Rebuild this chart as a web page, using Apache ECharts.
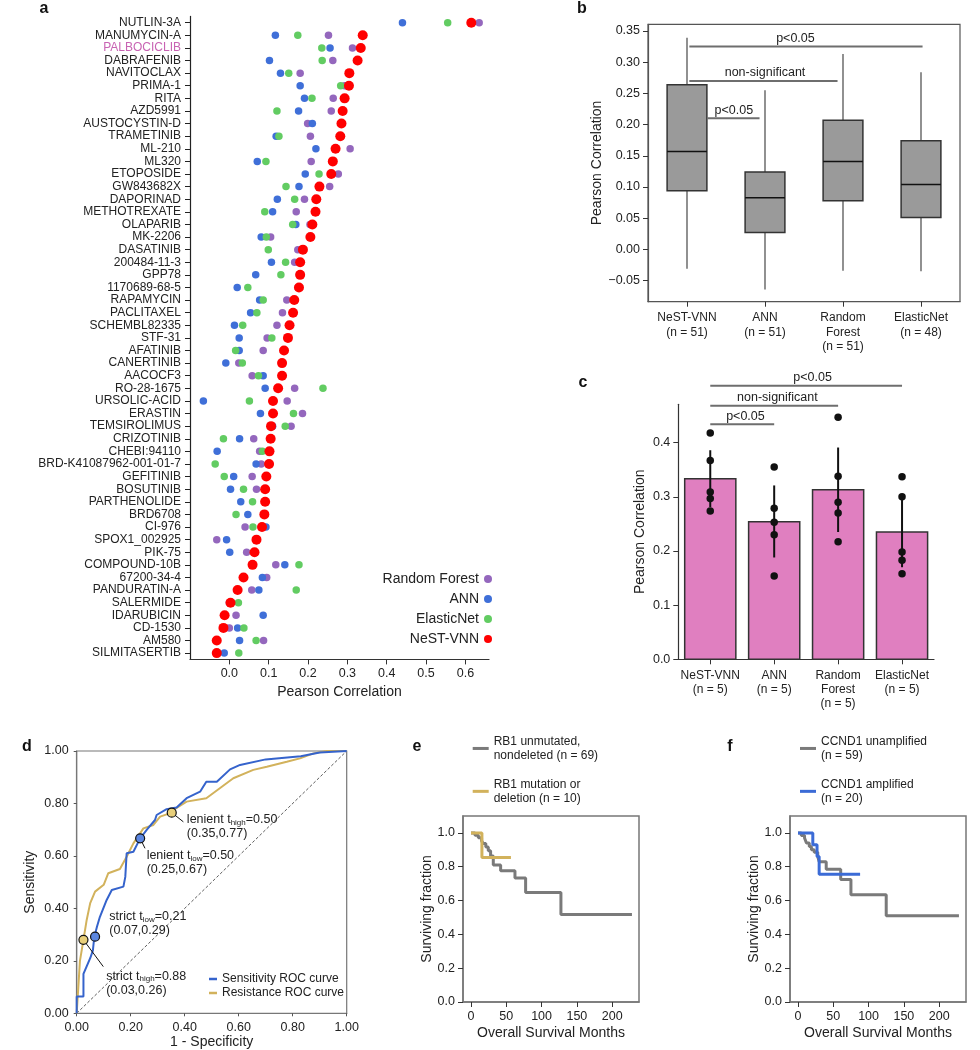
<!DOCTYPE html>
<html><head><meta charset="utf-8">
<script src="https://cdn.jsdelivr.net/npm/echarts@6/dist/echarts.min.js"></script>
<style>html,body{margin:0;padding:0;background:#fff}#c{width:980px;height:1050px}</style>
</head><body><div id="c"></div>
<script>
// ---------------- Panel a : per-drug Pearson correlation ----------------
const drugs = ['NUTLIN-3A','MANUMYCIN-A','PALBOCICLIB','DABRAFENIB','NAVITOCLAX','PRIMA-1','RITA','AZD5991','AUSTOCYSTIN-D','TRAMETINIB','ML-210','ML320','ETOPOSIDE','GW843682X','DAPORINAD','METHOTREXATE','OLAPARIB','MK-2206','DASATINIB','200484-11-3','GPP78','1170689-68-5','RAPAMYCIN','PACLITAXEL','SCHEMBL82335','STF-31','AFATINIB','CANERTINIB','AACOCF3','RO-28-1675','URSOLIC-ACID','ERASTIN','TEMSIROLIMUS','CRIZOTINIB','CHEBI:94110','BRD-K41087962-001-01-7','GEFITINIB','BOSUTINIB','PARTHENOLIDE','BRD6708','CI-976','SPOX1_002925','PIK-75','COMPOUND-10B','67200-34-4','PANDURATIN-A','SALERMIDE','IDARUBICIN','CD-1530','AM580','SILMITASERTIB'];
const nestVals = [0.615,0.339,0.334,0.326,0.305,0.304,0.293,0.288,0.285,0.282,0.270,0.263,0.259,0.229,0.221,0.219,0.211,0.206,0.187,0.180,0.180,0.177,0.165,0.162,0.153,0.149,0.139,0.134,0.134,0.124,0.111,0.111,0.106,0.105,0.102,0.101,0.094,0.091,0.091,0.089,0.083,0.069,0.064,0.059,0.036,0.021,0.003,-0.012,-0.015,-0.032,-0.032];
const annVals = [0.440,0.117,0.256,0.102,0.130,0.180,0.191,0.176,0.211,0.119,0.220,0.071,0.193,0.177,0.122,0.110,0.169,0.081,0.184,0.107,0.067,0.020,0.077,0.054,0.013,0.025,0.025,-0.009,0.086,0.091,-0.066,0.079,0.110,0.026,-0.031,0.068,0.011,0.003,0.029,0.047,0.093,-0.007,0.001,0.141,0.084,0.075,0.004,0.086,0.021,0.026,-0.013];
const enVals = [0.555,0.174,0.235,0.236,0.151,0.283,0.210,0.121,null,0.126,null,0.093,0.228,0.144,0.166,0.090,0.161,0.094,0.099,0.143,0.131,0.047,0.086,0.070,0.034,0.108,0.016,0.033,0.074,0.238,0.051,0.163,0.142,-0.015,0.084,-0.036,-0.013,0.036,0.059,0.017,0.060,0.068,0.063,0.177,null,0.170,0.023,-0.011,0.037,0.068,0.024];
const rfVals = [0.635,0.252,0.313,0.263,0.180,0.293,0.264,0.259,0.199,0.206,0.307,0.208,0.277,0.255,0.191,0.170,0.205,0.105,0.174,0.166,0.178,0.175,0.146,0.135,0.121,0.096,0.086,0.024,0.058,0.166,0.147,0.186,0.157,0.062,0.077,0.081,0.058,0.069,0.090,0.088,0.040,-0.032,0.044,0.118,0.095,0.057,0.000,0.017,0.000,0.087,-0.031];
const highlightDrug = 'PALBOCICLIB';
const ticksA = [0, 0.1, 0.2, 0.3, 0.4, 0.5, 0.6];

// ---------------- Panel b : box plots ----------------
const modelLabelsB = ['NeST-VNN\n(n = 51)', 'ANN\n(n = 51)', 'Random\nForest\n(n = 51)', 'ElasticNet\n(n = 48)'];
const boxLow  = [-0.031, -0.064, -0.034, -0.035];
const boxQ1   = [0.094, 0.027, 0.078, 0.051];
const boxMed  = [0.157, 0.083, 0.141, 0.104];
const boxQ3   = [0.264, 0.124, 0.207, 0.174];
const boxHigh = [0.339, 0.255, 0.313, 0.284];
const ticksB = [-0.05, 0, 0.05, 0.1, 0.15, 0.2, 0.25, 0.3, 0.35];
// [from, to, y, text x]
const bracketsB = [[0.03, 3.02, 0.325, 1.39], [0.03, 1.93, 0.270, 1.0], [0.26, 0.93, 0.210, 0.6]];
const bracketTextB = ['p<0.05', 'non-significant', 'p<0.05'];

// ---------------- Panel c : bars ----------------
const modelLabelsC = ['NeST-VNN\n(n = 5)', 'ANN\n(n = 5)', 'Random\nForest\n(n = 5)', 'ElasticNet\n(n = 5)'];
const cMeans = [0.3335, 0.254, 0.313, 0.235];
const cErrLow = [0.281, 0.188, 0.235, 0.170];
const cErrHigh = [0.386, 0.321, 0.391, 0.300];
const cPoints = [[0.418, 0.367, 0.309, 0.297, 0.274], [0.355, 0.279, 0.253, 0.230, 0.154], [0.447, 0.338, 0.290, 0.270, 0.217], [0.337, 0.300, 0.198, 0.183, 0.158]];
const ticksC = [0, 0.1, 0.2, 0.3, 0.4];
const bracketsC = [[0, 3, 0.505, 1.6], [0, 2, 0.468, 1.05], [0, 1, 0.434, 0.55]];
const bracketTextC = ['p<0.05', 'non-significant', 'p<0.05'];

// ---------------- Panel d : ROC ----------------
const rocSens = [[0,0],[0,0.064],[0.025,0.064],[0.025,0.15],[0.05,0.21],[0.06,0.24],[0.065,0.29],[0.075,0.33],[0.086,0.368],[0.111,0.432],[0.13,0.47],[0.173,0.483],[0.18,0.52],[0.185,0.61],[0.21,0.616],[0.235,0.667],[0.26,0.70],[0.29,0.737],[0.296,0.756],[0.333,0.778],[0.37,0.785],[0.407,0.82],[0.457,0.845],[0.48,0.883],[0.519,0.883],[0.568,0.93],[0.605,0.947],[0.70,0.968],[0.83,0.98],[0.90,0.994],[1,1]];
const rocRes = [[0,0],[0.006,0.10],[0.012,0.20],[0.025,0.28],[0.037,0.356],[0.05,0.42],[0.068,0.464],[0.10,0.49],[0.117,0.534],[0.16,0.55],[0.185,0.597],[0.21,0.648],[0.247,0.705],[0.284,0.718],[0.309,0.75],[0.352,0.765],[0.358,0.775],[0.407,0.807],[0.48,0.82],[0.53,0.858],[0.58,0.896],[0.654,0.928],[0.704,0.94],[0.778,0.959],[0.827,0.972],[0.877,0.991],[0.926,1.0],[1,1]];
const diagLine = [[0,0],[1,1]];
const ptsSens = [[0.235, 0.667], [0.068, 0.292]];
const ptsRes = [[0.352, 0.765], [0.025, 0.28]];
const ticksD = [0, 0.2, 0.4, 0.6, 0.8, 1.0];
const leadersD = [[0.352, 0.765, 0.395, 0.730], [0.235, 0.667, 0.253, 0.629], [0.025, 0.28, 0.0985, 0.178]];
const annotPosD = [[0.408, 0.737], [0.259, 0.600], [0.121, 0.368], [0.109, 0.142]];
const annotTextD = [
  '{a|lenient t}{s|high}{a|=0.50}\n{a|(0.35,0.77)}',
  '{a|lenient t}{s|low}{a|=0.50}\n{a|(0.25,0.67)}',
  '{a|strict t}{s|low}{a|=0.21}\n{a|(0.07,0.29)}',
  '{a|strict t}{s|high}{a|=0.88}\n{a|(0.03,0.26)}'
];

// ---------------- Panels e, f : Kaplan-Meier ----------------
const kmRbWt = [[0,1],[5.7,0.986],[10.4,0.972],[15,0.953],[17.5,0.937],[21,0.917],[24.5,0.894],[27.8,0.864],[31.6,0.81],[42,0.776],[62.3,0.733],[77.4,0.648],[127.4,0.517],[228,0.517]];
const kmRbMut = [[0,1],[15.5,0.855],[56.6,0.855]];
const kmCcndUn = [[0,1],[4.7,0.985],[9.3,0.97],[12,0.94],[16,0.92],[19,0.90],[23,0.885],[28,0.86],[30,0.83],[40,0.785],[60.5,0.725],[75,0.635],[125,0.51],[228,0.51]];
const kmCcndAmp = [[0,1],[21,0.93],[27,0.86],[30,0.756],[88,0.756]];
const ticksKmX = [0, 50, 100, 150, 200];
const ticksKmY = [0, 0.2, 0.4, 0.6, 0.8, 1.0];
const nameRbWt = 'RB1 unmutated,\nnondeleted (n = 69)';
const nameRbMut = 'RB1 mutation or\ndeletion (n = 10)';
const nameCcUn = 'CCND1 unamplified\n(n = 59)';
const nameCcAmp = 'CCND1 amplified\n(n = 20)';

// ======================================================================
const FONT = '"Liberation Sans", Arial, Helvetica, sans-serif';
const TXT = '#222';
const C_RED = '#ff0000', C_BLUE = '#3f6fd8', C_GREEN = '#62cc62', C_PURPLE = '#9467bd';
const C_PINK = '#e07fc0', C_TAN = '#d2b25c', C_ROCBLUE = '#3563cc', C_KMGRAY = '#7a7a7a', C_KMBLUE = '#3b6bd6';

const chart = echarts.init(document.getElementById('c'), null, {renderer: 'canvas'});

function lbl(size, extra) { return Object.assign({color: TXT, fontSize: size, fontFamily: FONT}, extra || {}); }
function axisLineStyle(color, w) { return {show: true, onZero: false, lineStyle: {color: color, width: w}}; }

const grids = [
  {left: 190, top: 16.4, width: 299, height: 643},        // a
  {left: 648, top: 24.3, width: 312, height: 277.4, show: true, borderColor: '#555', borderWidth: 1.2}, // b
  {left: 678.3, top: 404.3, width: 255.7, height: 255},   // c
  {left: 76.7, top: 751, width: 270, height: 262.3, show: true, borderColor: '#777', borderWidth: 1.2}, // d
  {left: 463, top: 816, width: 176, height: 186, show: true, borderColor: '#777', borderWidth: 1.5},  // e
  {left: 790, top: 816, width: 176, height: 186, show: true, borderColor: '#777', borderWidth: 1.5}   // f
].map(g => Object.assign({outerBoundsMode: 'none', containLabel: false, backgroundColor: 'transparent'}, g));

function valueAxis(gi, min, max, ticks, fmt, opts) {
  const o = Object.assign({
    type: 'value', gridIndex: gi, min: min, max: max,
    splitLine: {show: false},
    axisLine: axisLineStyle('#333', 1.2),
    axisTick: {show: true, customValues: ticks, length: 5, lineStyle: {color: '#333'}},
    axisLabel: {customValues: ticks, formatter: fmt, color: TXT, fontSize: 12.5, fontFamily: FONT, margin: 8},
    nameTextStyle: lbl(14)
  }, opts || {});
  return o;
}

const xAxes = [
  valueAxis(0, -0.1, 0.66, ticksA, v => v.toFixed(1), {name: 'Pearson Correlation', nameLocation: 'middle', nameGap: 24}),
  valueAxis(1, -0.5, 3.5, [0,1,2,3], v => modelLabelsB[Math.round(v)], {
    axisLine: axisLineStyle('#555', 1.2),
    axisLabel: {customValues: [0,1,2,3], formatter: v => modelLabelsB[Math.round(v)], color: TXT, fontSize: 12, lineHeight: 14.5, fontFamily: FONT, margin: 9}
  }),
  valueAxis(2, -0.5, 3.5, [0,1,2,3], v => modelLabelsC[Math.round(v)], {
    axisLabel: {customValues: [0,1,2,3], formatter: v => modelLabelsC[Math.round(v)], color: TXT, fontSize: 12, lineHeight: 14.2, fontFamily: FONT, margin: 9}
  }),
  valueAxis(3, 0, 1, ticksD, v => v.toFixed(2), {name: '1 - Specificity', nameLocation: 'middle', nameGap: 22,
    axisLine: axisLineStyle('#777', 1.2), axisTick: {show: true, customValues: ticksD, length: 3, lineStyle: {color: '#555'}}}),
  valueAxis(4, -11.3, 238, ticksKmX, v => String(v), {name: 'Overall Survival Months', nameLocation: 'middle', nameGap: 24,
    axisLine: axisLineStyle('#777', 1.5)}),
  valueAxis(5, -11.3, 238, ticksKmX, v => String(v), {name: 'Overall Survival Months', nameLocation: 'middle', nameGap: 24,
    axisLine: axisLineStyle('#777', 1.5)})
];

const yAxes = [
  {type: 'category', gridIndex: 0, data: drugs, inverse: true,
   axisLine: axisLineStyle('#222', 1.2),
   axisTick: {show: true, alignWithLabel: true, length: 5, lineStyle: {color: '#222'}},
   splitLine: {show: false},
   axisLabel: {interval: 0, color: TXT, fontSize: 12, fontFamily: FONT, margin: 9,
     formatter: v => v === highlightDrug ? '{hl|' + v + '}' : v,
     rich: {hl: {color: '#c863b3', fontSize: 12, fontFamily: FONT}}}},
  valueAxis(1, -0.0837, 0.3607, ticksB, v => (v < 0 ? '\u2212' + Math.abs(v).toFixed(2) : v.toFixed(2)),
    {name: 'Pearson Correlation', nameLocation: 'middle', nameGap: 39, axisLine: axisLineStyle('#555', 1.2)}),
  valueAxis(2, 0, 0.4708, ticksC, v => v.toFixed(1), {name: 'Pearson Correlation', nameLocation: 'middle', nameGap: 31}),
  valueAxis(3, 0, 1, ticksD, v => v.toFixed(2), {name: 'Sensitivity', nameLocation: 'middle', nameGap: 40,
    axisLine: axisLineStyle('#777', 1.2), axisTick: {show: true, customValues: ticksD, length: 3, lineStyle: {color: '#555'}}}),
  valueAxis(4, 0, 1.1, ticksKmY, v => v.toFixed(1), {name: 'Surviving fraction', nameLocation: 'middle', nameGap: 29,
    axisLine: axisLineStyle('#777', 1.5)}),
  valueAxis(5, 0, 1.1, ticksKmY, v => v.toFixed(1), {name: 'Surviving fraction', nameLocation: 'middle', nameGap: 29,
    axisLine: axisLineStyle('#777', 1.5)})
];

function dotSeries(name, vals, color, size, z) {
  return {
    type: 'scatter', name: name, xAxisIndex: 0, yAxisIndex: 0, z: z,
    symbol: 'circle', symbolSize: size, itemStyle: {color: color, opacity: 1},
    data: vals.map((v, i) => v === null ? null : [v, drugs[i]]).filter(d => d !== null),
    emphasis: {disabled: true}, silent: true
  };
}

function bracketSeries(axisIdx, data, texts) {
  return {
    type: 'custom', xAxisIndex: axisIdx, yAxisIndex: axisIdx, clip: false, silent: true, z: 5,
    data: data,
    renderItem: function (params, api) {
      const p1 = api.coord([api.value(0), api.value(2)]);
      const p2 = api.coord([api.value(1), api.value(2)]);
      const pt = api.coord([api.value(3), api.value(2)]);
      return {type: 'group', children: [
        {type: 'line', shape: {x1: p1[0], y1: p1[1], x2: p2[0], y2: p2[1]}, style: {stroke: '#6e6e6e', lineWidth: 2}},
        {type: 'text', x: pt[0], y: pt[1] - 1.5, style: {text: texts[params.dataIndex], fill: TXT, fontSize: 12.5, fontFamily: FONT, align: 'center', verticalAlign: 'bottom'}}
      ]};
    }
  };
}

const series = [
  dotSeries('Random Forest', rfVals, C_PURPLE, 7.5, 2),
  dotSeries('ANN', annVals, C_BLUE, 7.5, 3),
  dotSeries('ElasticNet', enVals, C_GREEN, 7.5, 4),
  dotSeries('NeST-VNN', nestVals, C_RED, 10, 5),
  // b: box plots
  {
    type: 'custom', name: 'box', xAxisIndex: 1, yAxisIndex: 1, silent: true,
    data: boxMed.map((m, i) => [i, boxLow[i], boxQ1[i], m, boxQ3[i], boxHigh[i]]),
    renderItem: function (params, api) {
      const i = api.value(0), hw = 0.255;
      const lo = api.coord([i, api.value(1)]), hi = api.coord([i, api.value(5)]);
      const q1L = api.coord([i - hw, api.value(2)]), q3R = api.coord([i + hw, api.value(4)]);
      const mL = api.coord([i - hw, api.value(3)]), mR = api.coord([i + hw, api.value(3)]);
      return {type: 'group', children: [
        {type: 'line', shape: {x1: lo[0], y1: lo[1], x2: hi[0], y2: hi[1]}, style: {stroke: '#555', lineWidth: 1.3}},
        {type: 'rect', shape: {x: q1L[0], y: q3R[1], width: q3R[0] - q1L[0], height: q1L[1] - q3R[1]}, style: {fill: '#9a9a9a', stroke: '#333', lineWidth: 1.5}},
        {type: 'line', shape: {x1: mL[0], y1: mL[1], x2: mR[0], y2: mR[1]}, style: {stroke: '#111', lineWidth: 1.5}}
      ]};
    }
  },
  bracketSeries(1, bracketsB, bracketTextB),
  // c: bars
  {
    type: 'custom', name: 'bars', xAxisIndex: 2, yAxisIndex: 2, silent: true, z: 2,
    data: cMeans.map((m, i) => [i, m]),
    renderItem: function (params, api) {
      const i = api.value(0), hw = 0.4;
      const tl = api.coord([i - hw, api.value(1)]), br = api.coord([i + hw, 0]);
      return {type: 'rect', shape: {x: tl[0], y: tl[1], width: br[0] - tl[0], height: br[1] - tl[1]}, style: {fill: C_PINK, stroke: '#333', lineWidth: 1.5}};
    }
  },
  {
    type: 'custom', name: 'err', xAxisIndex: 2, yAxisIndex: 2, silent: true, z: 3,
    data: cMeans.map((m, i) => [i, cErrLow[i], cErrHigh[i]]),
    renderItem: function (params, api) {
      const a = api.coord([api.value(0), api.value(1)]), b = api.coord([api.value(0), api.value(2)]);
      return {type: 'line', shape: {x1: a[0], y1: a[1], x2: b[0], y2: b[1]}, style: {stroke: '#111', lineWidth: 2}};
    }
  },
  {
    type: 'scatter', name: 'pts', xAxisIndex: 2, yAxisIndex: 2, z: 4, silent: true,
    symbolSize: 7.5, itemStyle: {color: '#111', opacity: 1},
    data: cPoints.flatMap((arr, i) => arr.map(v => [i, v]))
  },
  bracketSeries(2, bracketsC, bracketTextC),
  // d: ROC
  {type: 'line', name: 'diag', xAxisIndex: 3, yAxisIndex: 3, data: diagLine, showSymbol: false, silent: true,
   lineStyle: {color: '#333', width: 0.8, type: [3, 2]}},
  {type: 'line', name: 'Resistance ROC curve', xAxisIndex: 3, yAxisIndex: 3, data: rocRes, showSymbol: false, silent: true,
   itemStyle: {color: C_TAN}, lineStyle: {color: C_TAN, width: 2}},
  {type: 'line', name: 'Sensitivity ROC curve', xAxisIndex: 3, yAxisIndex: 3, data: rocSens, showSymbol: false, silent: true,
   itemStyle: {color: C_ROCBLUE}, lineStyle: {color: C_ROCBLUE, width: 2}},
  {type: 'custom', name: 'leaders', xAxisIndex: 3, yAxisIndex: 3, silent: true, z: 4, data: leadersD,
   renderItem: function (params, api) {
     const a = api.coord([api.value(0), api.value(1)]), b = api.coord([api.value(2), api.value(3)]);
     return {type: 'line', shape: {x1: a[0], y1: a[1], x2: b[0], y2: b[1]}, style: {stroke: '#111', lineWidth: 1}};
   }},
  {type: 'scatter', name: 'ptsRes', xAxisIndex: 3, yAxisIndex: 3, z: 6, silent: true, data: ptsRes, symbolSize: 9,
   itemStyle: {color: '#e8cf7a', borderColor: '#111', borderWidth: 1.2, opacity: 1}},
  {type: 'scatter', name: 'ptsSens', xAxisIndex: 3, yAxisIndex: 3, z: 6, silent: true, data: ptsSens, symbolSize: 9,
   itemStyle: {color: '#5b86e0', borderColor: '#111', borderWidth: 1.2, opacity: 1}},
  {type: 'custom', name: 'annot', xAxisIndex: 3, yAxisIndex: 3, silent: true, z: 7, data: annotPosD,
   renderItem: function (params, api) {
     const p = api.coord([api.value(0), api.value(1)]);
     return {type: 'text', x: p[0], y: p[1] - 7, style: {text: annotTextD[params.dataIndex], align: 'left', verticalAlign: 'top',
       rich: {a: {fontSize: 12.5, fontFamily: FONT, fill: TXT, color: TXT, lineHeight: 14},
              s: {fontSize: 8, fontFamily: FONT, fill: TXT, color: TXT, lineHeight: 5, verticalAlign: 'bottom'}}}};
   }},
  // e, f: KM
  {type: 'line', name: nameRbWt, xAxisIndex: 4, yAxisIndex: 4, data: kmRbWt, step: 'end', showSymbol: false, silent: true,
   itemStyle: {color: C_KMGRAY}, lineStyle: {color: C_KMGRAY, width: 3}},
  {type: 'line', name: nameRbMut, xAxisIndex: 4, yAxisIndex: 4, data: kmRbMut, step: 'end', showSymbol: false, silent: true,
   itemStyle: {color: C_TAN}, lineStyle: {color: C_TAN, width: 3}},
  {type: 'line', name: nameCcUn, xAxisIndex: 5, yAxisIndex: 5, data: kmCcndUn, step: 'end', showSymbol: false, silent: true,
   itemStyle: {color: C_KMGRAY}, lineStyle: {color: C_KMGRAY, width: 3}},
  {type: 'line', name: nameCcAmp, xAxisIndex: 5, yAxisIndex: 5, data: kmCcndAmp, step: 'end', showSymbol: false, silent: true,
   itemStyle: {color: C_KMBLUE}, lineStyle: {color: C_KMBLUE, width: 3}}
];

function kmLegend(left, names) {
  return {
    data: names, left: left, top: 727, padding: 0, orient: 'vertical', itemGap: 0, icon: 'rect', itemWidth: 16, itemHeight: 3,
    selectedMode: false,
    textStyle: {color: TXT, fontSize: 12, fontFamily: FONT, lineHeight: 14.3, padding: [14.3, 0, 0, 0]}
  };
}

const legends = [
  {data: ['Random Forest', 'ANN', 'ElasticNet', 'NeST-VNN'], right: 488, top: 572, padding: 0, orient: 'vertical', align: 'right',
   icon: 'circle', itemWidth: 8, itemHeight: 8, itemGap: 6, selectedMode: false,
   textStyle: {color: TXT, fontSize: 14, fontFamily: FONT}},
  {data: ['Sensitivity ROC curve', 'Resistance ROC curve'], left: 209, top: 973, padding: 0, orient: 'vertical', itemGap: 2,
   icon: 'rect', itemWidth: 8, itemHeight: 2.5, selectedMode: false,
   textStyle: {color: TXT, fontSize: 12, fontFamily: FONT}},
  kmLegend(472.7, [nameRbWt, nameRbMut]),
  kmLegend(800, [nameCcUn, nameCcAmp])
];

function panelLabel(t, x, y) {
  return {type: 'text', x: x, y: y, silent: true, style: {text: t, fill: '#111', fontSize: 16, fontWeight: 'bold', fontFamily: FONT, align: 'center', verticalAlign: 'middle'}};
}

chart.setOption({
  animation: false,
  backgroundColor: '#fff',
  textStyle: {fontFamily: FONT},
  grid: grids, xAxis: xAxes, yAxis: yAxes, series: series, legend: legends,
  graphic: [panelLabel('a', 44, 9), panelLabel('b', 582, 9), panelLabel('c', 583, 383),
            panelLabel('d', 27, 747), panelLabel('e', 417, 747), panelLabel('f', 730, 747)]
});
</script></body></html>
